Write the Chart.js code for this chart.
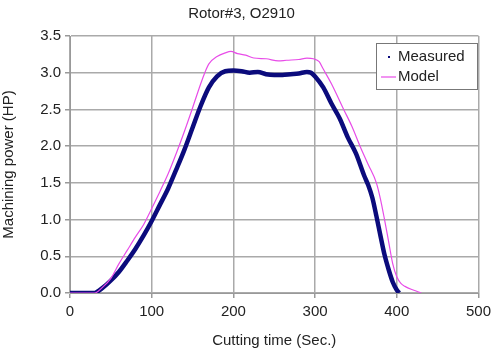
<!DOCTYPE html>
<html>
<head>
<meta charset="utf-8">
<script src="https://cdn.jsdelivr.net/npm/chart.js@4/dist/chart.umd.min.js"></script>
<style>
  html, body { margin: 0; padding: 0; background: #fff; }
  #wrap { width: 496px; height: 354px; }
</style>
</head>
<body>
<div id="wrap"><canvas id="myChart" width="496" height="354"></canvas></div>
<script>
// Measured power (HP) vs cutting time (s)
const measuredTime = [0, 30, 35, 40, 50, 60, 70, 80, 90, 100, 110, 120, 130, 140, 150, 160, 170, 180, 190, 200,
  210, 220, 230, 240, 250, 260, 270, 280, 290, 295, 300, 310, 320, 330, 340, 350, 360, 365, 370, 375,
  380, 385, 390, 395, 400, 403];
const measuredPower = [0, 0, 0.03, 0.07, 0.17, 0.29, 0.44, 0.6, 0.78, 0.98, 1.2, 1.42, 1.68, 1.95, 2.25, 2.55, 2.8, 2.95, 3.02, 3.03,
  3.02, 3.0, 3.01, 2.98, 2.97, 2.97, 2.98, 2.99, 3.01, 3.0, 2.95, 2.8, 2.58, 2.38, 2.12, 1.9, 1.6, 1.47, 1.3, 1.05,
  0.78, 0.52, 0.32, 0.15, 0.04, 0];

// Model power
const modelTime = [0, 30, 40, 50, 60, 70, 80, 90, 100, 110, 120, 130, 140, 150, 160, 165, 170, 180, 190, 197,
  205, 215, 225, 240, 255, 265, 280, 290, 298, 305, 310, 320, 335, 345, 355, 365, 375, 380, 385, 390,
  395, 400, 405, 410, 420, 430];
const modelPower = [0, 0, 0.08, 0.2, 0.4, 0.58, 0.76, 0.93, 1.15, 1.38, 1.62, 1.9, 2.2, 2.52, 2.85, 3.0, 3.12, 3.22, 3.27, 3.29,
  3.26, 3.24, 3.2, 3.19, 3.16, 3.17, 3.18, 3.2, 3.19, 3.15, 3.05, 2.85, 2.5, 2.27, 2.0, 1.75, 1.5, 1.28, 1.0, 0.7,
  0.4, 0.22, 0.13, 0.09, 0.04, 0];

const xTicks = [0, 100, 200, 300, 400, 500];
const yTicks = [0, 0.5, 1.0, 1.5, 2.0, 2.5, 3.0, 3.5];

const seriesNames = ['Measured', 'Model'];
const navy = '#0b0b7c';
const magenta = '#e84ce8';
const font = 'Liberation Sans, Arial, sans-serif';

const toPoints = (xs, ys) => xs.map((x, i) => ({ x: x, y: ys[i] }));

// legend box like the spreadsheet one
const legendBox = {
  id: 'legendBox',
  afterDraw(chart) {
    const ctx = chart.ctx;
    ctx.save();
    ctx.fillStyle = '#fff';
    ctx.fillRect(376, 43, 101, 46);
    ctx.strokeStyle = '#777';
    ctx.lineWidth = 1;
    ctx.strokeRect(376.5, 43.5, 101, 46);
    ctx.font = '15px ' + font;
    ctx.fillStyle = '#222';
    ctx.textBaseline = 'middle';
    ctx.fillText(seriesNames[0], 398, 57);
    ctx.fillText(seriesNames[1], 398, 77);
    ctx.fillStyle = navy;
    ctx.fillRect(388, 56, 2, 2);
    ctx.strokeStyle = magenta;
    ctx.lineWidth = 1.2;
    ctx.beginPath();
    ctx.moveTo(381, 77);
    ctx.lineTo(396, 77);
    ctx.stroke();
    ctx.restore();
  }
};

new Chart(document.getElementById('myChart').getContext('2d'), {
  type: 'line',
  data: {
    datasets: [
      {
        label: seriesNames[1],
        data: toPoints(modelTime, modelPower),
        borderColor: magenta,
        borderWidth: 1.2,
        pointRadius: 0,
        cubicInterpolationMode: 'monotone'
      },
      {
        label: seriesNames[0],
        data: toPoints(measuredTime, measuredPower),
        borderColor: navy,
        borderWidth: 4.5,
        pointRadius: 0,
        cubicInterpolationMode: 'monotone'
      }
    ]
  },
  options: {
    responsive: false,
    animation: false,
    layout: { padding: { top: 0, right: 13, bottom: 4, left: 0 } },
    plugins: {
      legend: { display: false },
      tooltip: { enabled: false },
      title: {
        display: true,
        text: 'Rotor#3, O2910',
        color: '#222',
        font: { family: font, size: 15, weight: 'normal' },
        padding: { top: 5, bottom: 13 }
      }
    },
    scales: {
      x: {
        type: 'linear',
        min: 0,
        max: 500,
        afterBuildTicks: s => { s.ticks = xTicks.map(v => ({ value: v })); },
        afterFit: s => { s.height = 57; },
        grid: { color: '#aaa', lineWidth: 1.5, tickLength: 5, tickColor: '#999' },
        border: { color: '#999' },
        ticks: { color: '#222', font: { family: font, size: 15 }, padding: 5 },
        title: {
          display: true,
          text: 'Cutting time (Sec.)',
          color: '#222',
          font: { family: font, size: 15 },
          padding: { top: 2, bottom: 0 }
        }
      },
      y: {
        min: 0,
        max: 3.5,
        afterBuildTicks: s => { s.ticks = yTicks.map(v => ({ value: v })); },
        afterFit: s => { s.width = 70; },
        grid: { color: '#aaa', lineWidth: 1.5, tickLength: 5, tickColor: '#999' },
        border: { color: '#999' },
        ticks: {
          color: '#222',
          font: { family: font, size: 15 },
          padding: 4,
          callback: v => v.toFixed(1)
        },
        title: {
          display: true,
          text: 'Machining power (HP)',
          color: '#222',
          font: { family: font, size: 15 },
          padding: { top: 0, bottom: 4 }
        }
      }
    }
  },
  plugins: [legendBox]
});
</script>
</body>
</html>
